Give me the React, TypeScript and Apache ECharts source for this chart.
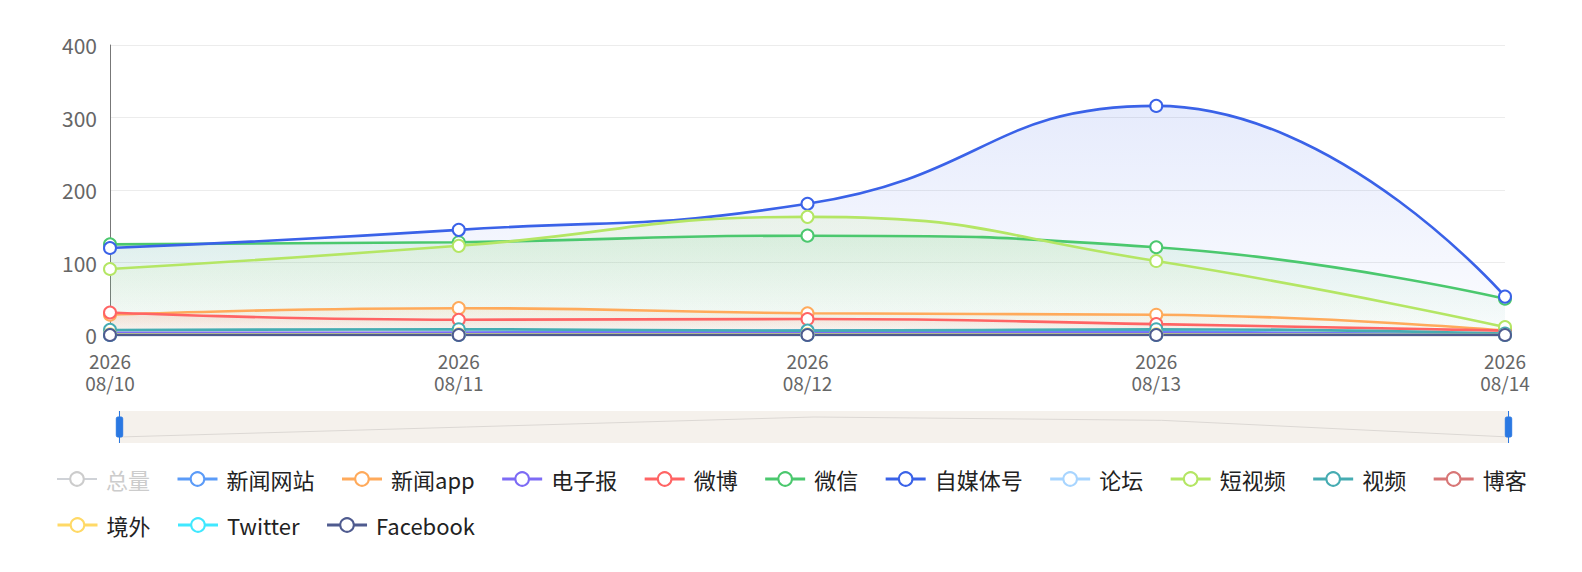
import React, { useEffect, useRef } from "react";
import * as echarts from "echarts";

const categories = ["2026\n08/10", "2026\n08/11", "2026\n08/12", "2026\n08/13", "2026\n08/14"];

const seriesNames = ["总量", "新闻网站", "新闻app", "电子报", "微博", "微信", "自媒体号", "论坛", "短视频", "视频", "博客", "境外", "Twitter", "Facebook"];
const seriesColors = ["#a0a0a0", "#5b9bf8", "#ffaa5b", "#7d6bf5", "#ff6464", "#4bc86e", "#3a62e8", "#a8d5ff", "#b4e664", "#46acb2", "#d87676", "#ffd966", "#40e8ff", "#4f5b8f"];
const legendRow1 = seriesNames.slice(0, 11);
const legendRow2 = seriesNames.slice(11);

const totalValues = [410, 465, 545, 595, 130];
const newsSiteValues = [0, 3, 6, 5, 0];
const newsAppValues = [28, 37, 30, 28, 6];
const ePaperValues = [3, 3, 3, 3, 1];
const weiboValues = [31, 21, 22, 15, 6];
const wechatValues = [125, 128, 137, 121, 50];
const selfMediaValues = [120, 145, 181, 316, 53];
const forumValues = [1, 1, 1, 1, 0];
const shortVideoValues = [91, 123, 163, 102, 11];
const videoValues = [7, 8, 6, 8, 2];
const blogValues = [0, 0, 0, 0, 0];
const overseasValues = [1, 1, 1, 1, 0];
const twitterValues = [0, 0, 0, 0, 0];
const facebookValues = [0, 0, 0, 0, 0];

const allValues = [totalValues, newsSiteValues, newsAppValues, ePaperValues, weiboValues, wechatValues, selfMediaValues, forumValues, shortVideoValues, videoValues, blogValues, overseasValues, twitterValues, facebookValues];

const yTicks = { min: 0, max: 400, interval: 100 };

function rgba(hex: string, a: number) {
  const n = parseInt(hex.slice(1), 16);
  return `rgba(${(n >> 16) & 255},${(n >> 8) & 255},${n & 255},${a})`;
}

const FONT = "'Noto Sans CJK SC', 'Noto Sans', sans-serif";

const legendBase = {
  left: 56,
  right: 4,
  padding: 0,
  itemWidth: 40,
  itemHeight: 17,
  itemGap: 26,
  inactiveColor: "#ccc",
  lineStyle: { width: 3 },
  itemStyle: { borderWidth: 3 },
  textStyle: { fontSize: 22, color: "#222", fontFamily: FONT, padding: [0, 0, 0, 4] },
};

export default function App() {
  const ref = useRef<HTMLDivElement>(null);
  useEffect(() => {
    if (!ref.current) return;
    document.documentElement.style.overflow = "hidden";
    document.body.style.margin = "0";
    const chart = echarts.init(ref.current, null, { renderer: "svg" });
    const series = seriesNames.map((name, i) => ({
      name,
      type: "line",
      smooth: true,
      data: allValues[i],
      symbol: "emptyCircle",
      symbolSize: 12,
      color: seriesColors[i],
      lineStyle: { width: 2.6, color: seriesColors[i] },
      itemStyle: { color: seriesColors[i], borderWidth: 2.8 },
      areaStyle: {
        color: new echarts.graphic.LinearGradient(0, 0, 0, 1, [
          { offset: 0, color: rgba(seriesColors[i], 0.18) },
          { offset: 1, color: rgba(seriesColors[i], 0.02) },
        ]),
      },
    }));
    chart.setOption({
      animation: false,
      textStyle: { fontFamily: FONT },
      grid: { left: 110, right: 77, top: 45, bottom: 237, containLabel: false, outerBoundsMode: "none" },
      xAxis: {
        type: "category",
        boundaryGap: false,
        data: categories,
        axisLine: { show: true, lineStyle: { color: "#777" } },
        axisTick: { show: false },
        axisLabel: { color: "#666", fontSize: 19, lineHeight: 22, margin: 14, fontFamily: FONT },
      },
      yAxis: {
        type: "value",
        min: yTicks.min,
        max: yTicks.max,
        interval: yTicks.interval,
        axisLine: { show: true, lineStyle: { color: "#777" } },
        axisTick: { show: false },
        splitLine: { lineStyle: { color: "#ececec" } },
        axisLabel: { color: "#666", fontSize: 21, margin: 13, fontFamily: FONT },
      },
      dataZoom: [
        {
          type: "slider",
          xAxisIndex: 0,
          start: 0,
          end: 100,
          left: 116,
          right: 75,
          top: 411,
          height: 32,
          showDetail: false,
          brushSelect: false,
          borderColor: "transparent",
          backgroundColor: "#f5f1ec",
          fillerColor: "rgba(0,0,0,0)",
          moveHandleSize: 0,
          moveHandleStyle: { opacity: 0 },
          handleSize: "100%",
          handleStyle: { color: "#2a78e2", borderColor: "#2a78e2" },
          dataBackground: { lineStyle: { color: "#dcd8d4", width: 1 }, areaStyle: { opacity: 0 } },
          selectedDataBackground: { lineStyle: { color: "#dcd8d4", width: 1 }, areaStyle: { opacity: 0 } },
        },
      ],
      legend: [
        { ...legendBase, data: legendRow1, top: 468, selected: { 总量: false } },
        { ...legendBase, data: legendRow2, top: 514 },
      ],
      series,
    });
    return () => chart.dispose();
  }, []);
  return <div ref={ref} style={{ position: "absolute", left: 0, top: 0, width: 1582, height: 572 }} />;
}
